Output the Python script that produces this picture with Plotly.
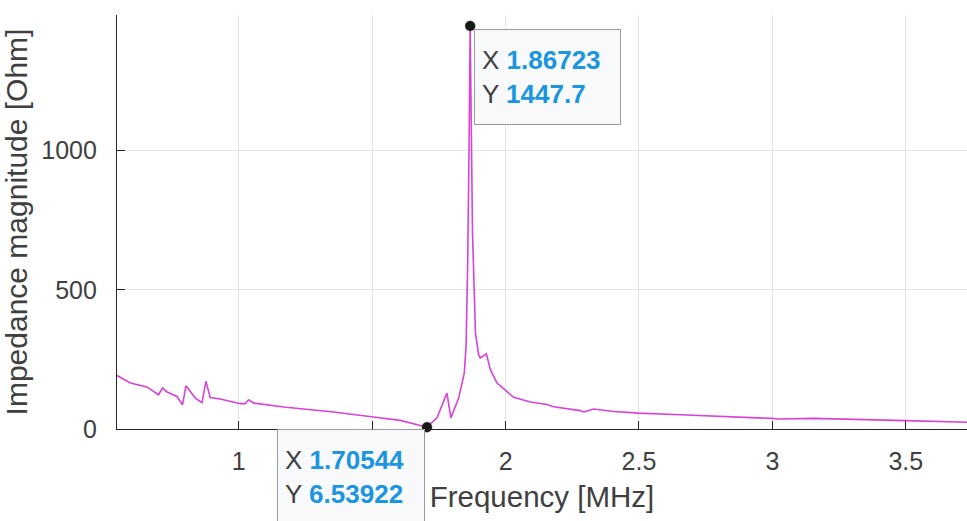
import plotly.graph_objects as go

# Frequency [MHz] and impedance magnitude [Ohm]
freq = [0.5435, 0.5935, 0.656, 0.699, 0.714, 0.731, 0.768, 0.789, 0.802, 0.837,
        0.862, 0.877, 0.893, 0.931, 1.006, 1.024, 1.037, 1.056, 1.168, 1.25,
        1.355, 1.505, 1.605, 1.70544, 1.743, 1.780, 1.795, 1.824, 1.845, 1.852,
        1.858, 1.863, 1.86723, 1.876, 1.887, 1.899, 1.905, 1.928, 1.943, 1.968,
        2.0, 2.03, 2.093, 2.155, 2.18, 2.28, 2.293, 2.33, 2.405, 2.5,
        2.655, 2.78, 3.0, 3.02, 3.155, 3.5, 3.73]
imp = [192, 165, 151, 123, 147, 133, 117, 87, 155, 111,
       95, 171, 113, 108, 91, 91, 105, 93, 79, 71,
       61, 43, 31, 6.53922, 40, 129, 40, 111, 200, 300,
       600, 1000, 1447.7, 706, 345, 267, 255, 270, 213, 165,
       138, 114, 97, 88, 80, 66, 61, 72, 63, 57,
       51, 47, 38, 36, 38, 30, 24]

# x tick positions; the 1.5 label is hidden under the lower datatip in the reference
x_ticks = [1, 1.5, 2, 2.5, 3, 3.5]
x_tick_labels = ["1", "", "2", "2.5", "3", "3.5"]
y_ticks = [0, 500, 1000]
y_tick_labels = ["0", "500", "1000"]

tip_x = [1.86723, 1.70544]
tip_y = [1447.7, 6.53922]
tip_x_txt = ["1.86723", "1.70544"]
tip_y_txt = ["1447.7", "6.53922"]

FONT = "Liberation Sans, Arial, Helvetica, sans-serif"
AX = "#262626"
GRID = "#e3e3e3"
LINE = "#d842d8"
VAL = "#1b95e0"

fig = go.Figure()
fig.add_trace(go.Scatter(x=freq, y=imp, mode="lines",
                         line=dict(color=LINE, width=1.6), hoverinfo="skip"))
fig.add_trace(go.Scatter(x=tip_x, y=tip_y, mode="markers",
                         marker=dict(color="#141a12", size=10,
                                     line=dict(color="#3a3a20", width=0.5)),
                         hoverinfo="skip", cliponaxis=False))

def tip_text(xs, ys):
    return (f"<span style='color:#404040'>X </span><b style='color:{VAL}'>{xs}</b><br>"
            f"<span style='color:#404040'>Y </span><b style='color:{VAL}'>{ys}</b>")

# datatip at peak: box to the right and below the point
fig.add_annotation(x=tip_x[0], y=tip_y[0], xref="x", yref="y",
                   text=tip_text(tip_x_txt[0], tip_y_txt[0]),
                   showarrow=False, xanchor="left", yanchor="top",
                   xshift=4, yshift=-3, align="left",
                   width=131, height=80, borderpad=7,
                   bgcolor="#f8f9fb", bordercolor="#9a9a9a", borderwidth=1,
                   font=dict(family=FONT, size=26, color="#404040"))
# datatip at minimum: box to the left and below the point
fig.add_annotation(x=tip_x[1], y=tip_y[1], xref="x", yref="y",
                   text=tip_text(tip_x_txt[1], tip_y_txt[1]),
                   showarrow=False, xanchor="right", yanchor="top",
                   xshift=-2, yshift=-2, align="left",
                   width=132, height=80, borderpad=7,
                   bgcolor="#f8f9fb", bordercolor="#9a9a9a", borderwidth=1,
                   font=dict(family=FONT, size=26, color="#404040"))

fig.update_layout(
    width=967, height=521,
    margin=dict(l=117, r=0, t=15, b=92),
    paper_bgcolor="white", plot_bgcolor="white",
    showlegend=False,
    font=dict(family=FONT, color=AX),
    xaxis=dict(range=[0.5435, 3.7295], tickmode="array",
               tickvals=x_ticks, ticktext=x_tick_labels,
               showgrid=True, gridcolor=GRID, gridwidth=1,
               zeroline=False, showline=True, linecolor=AX, linewidth=1.2,
               ticks="inside", ticklen=8, tickcolor=AX, tickwidth=1.2,
               ticklabelstandoff=10,
               tickfont=dict(family=FONT, size=25, color="#404040"),
               title=dict(text="Frequency [MHz]", standoff=12,
                          font=dict(family=FONT, size=29.5, color="#404040"))),
    yaxis=dict(range=[0, 1487], tickmode="array",
               tickvals=y_ticks, ticktext=y_tick_labels,
               showgrid=True, gridcolor=GRID, gridwidth=1,
               zeroline=False, showline=True, linecolor=AX, linewidth=1.2,
               ticks="inside", ticklen=8, tickcolor=AX, tickwidth=1.2,
               ticklabelstandoff=14,
               tickfont=dict(family=FONT, size=25, color="#404040"),
               title=dict(text="Impedance magnitude [Ohm]", standoff=10,
                          font=dict(family=FONT, size=30, color="#404040"))),
)

fig.write_html("out.html")
